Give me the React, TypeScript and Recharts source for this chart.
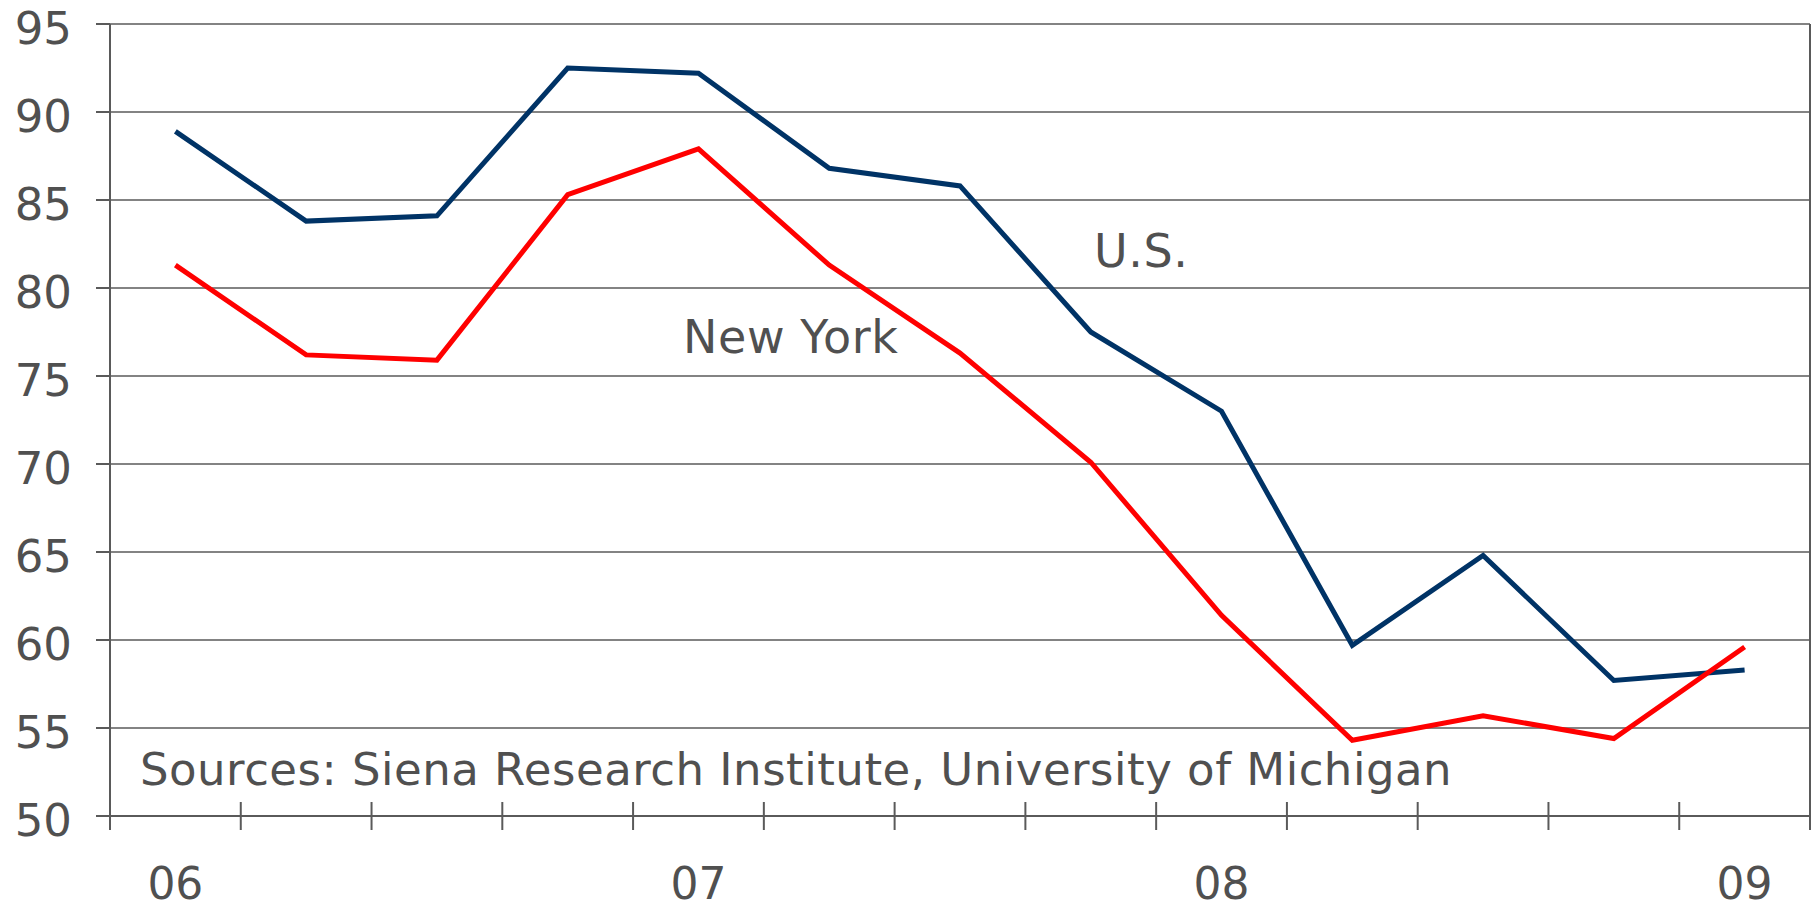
import {
  LineChart,
  Line,
  XAxis,
  YAxis,
  CartesianGrid,
} from "recharts";

// quarterly readings, first quarter of 2006 through first quarter of 2009
const QUARTERS = [
  "06", "", "", "",
  "07", "", "", "",
  "08", "", "", "",
  "09",
];
const US = [88.9, 83.8, 84.1, 92.5, 92.2, 86.8, 85.8, 77.5, 73.0, 59.7, 64.8, 57.7, 58.3];
const NEW_YORK = [81.3, 76.2, 75.9, 85.3, 87.9, 81.3, 76.3, 70.1, 61.4, 54.3, 55.7, 54.4, 59.6];
const Y_TICKS = [50, 55, 60, 65, 70, 75, 80, 85, 90, 95];

const W = 1814;
const H = 904;
const LEFT = 110;
const RIGHT = 4;
const TOP = 24;
const X_AXIS_H = 88;
const FONT = "'DejaVu Sans', sans-serif";
const INK = "#505050";
const RULE = "#5a5a5a";

const data = QUARTERS.map((q, i) => ({ i, label: q, us: US[i], ny: NEW_YORK[i] }));
// tick marks sit on the quarter boundaries, labels in the middle of the quarter
const boundaries = [...QUARTERS.map((_, i) => i - 0.5), QUARTERS.length - 0.5];
const halfBand = (W - LEFT - RIGHT) / QUARTERS.length / 2;

function QuarterTick(props: any) {
  const { x, y, payload } = props;
  const idx = payload.value + 0.5;
  const label = QUARTERS[idx];
  return (
    <g>
      <line x1={x} x2={x} y1={y - 14} y2={y + 14} stroke={RULE} strokeWidth={2} />
      {label ? (
        <text
          x={x + halfBand}
          y={y + 83}
          textAnchor="middle"
          fill={INK}
          fontSize={44}
          fontFamily={FONT}
        >
          {label}
        </text>
      ) : null}
    </g>
  );
}

export default function App() {
  return (
    <div style={{ position: "absolute", left: 0, top: 0, width: W, height: H, background: "#fff" }}>
      <LineChart
        width={W}
        height={H}
        data={data}
        margin={{ top: TOP, right: 0, bottom: 0, left: 0 }}
      >
        <CartesianGrid vertical={false} stroke={RULE} strokeWidth={1.5} />
        <XAxis
          dataKey="i"
          type="number"
          domain={[-0.5, QUARTERS.length - 0.5]}
          ticks={boundaries}
          interval={0}
          height={X_AXIS_H}
          tickSize={0}
          tickMargin={0}
          tickLine={false}
          axisLine={{ stroke: RULE, strokeWidth: 2 }}
          tick={<QuarterTick />}
        />
        <YAxis
          type="number"
          domain={[50, 95]}
          ticks={Y_TICKS}
          interval={0}
          width={LEFT}
          tickSize={14}
          tickMargin={24}
          tickLine={{ stroke: RULE, strokeWidth: 2 }}
          axisLine={{ stroke: RULE, strokeWidth: 2 }}
          tick={{ fill: INK, fontSize: 45, fontFamily: FONT, dy: 4 }}
        />
        <YAxis
          yAxisId="right"
          orientation="right"
          type="number"
          domain={[50, 95]}
          width={RIGHT}
          tick={false}
          tickLine={false}
          axisLine={{ stroke: RULE, strokeWidth: 2 }}
        />
        <Line
          dataKey="us"
          name="U.S."
          stroke="#003366"
          strokeWidth={5}
          dot={false}
          isAnimationActive={false}
        />
        <Line
          dataKey="ny"
          name="New York"
          stroke="#ff0000"
          strokeWidth={5}
          dot={false}
          isAnimationActive={false}
        />
      </LineChart>
      <svg
        width={W}
        height={H}
        style={{ position: "absolute", left: 0, top: 0, pointerEvents: "none" }}
      >
        <g fill={INK} fontFamily={FONT}>
          <text x={1094} y={267} fontSize={46} letterSpacing={0.6}>U.S.</text>
          <text x={683} y={353} fontSize={46} letterSpacing={0.6}>New York</text>
          <text x={140} y={785} fontSize={45} letterSpacing={0.5}>
            Sources: Siena Research Institute, University of Michigan
          </text>
        </g>
      </svg>
    </div>
  );
}
